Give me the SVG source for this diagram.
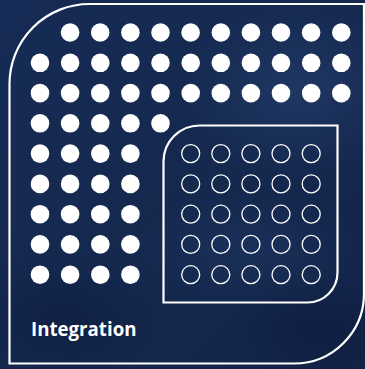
<svg xmlns="http://www.w3.org/2000/svg" width="365" height="369" viewBox="0 0 365 369">
  <defs>
    <linearGradient id="bg" x1="0" y1="0" x2="1" y2="1">
      <stop offset="0" stop-color="#162b55"/>
      <stop offset="0.5" stop-color="#15294f"/>
      <stop offset="1" stop-color="#122348"/>
    </linearGradient>
    <radialGradient id="glow1" cx="0.5" cy="0.5" r="0.5">
      <stop offset="0" stop-color="#2a4577" stop-opacity="0.5"/>
      <stop offset="1" stop-color="#2a4577" stop-opacity="0"/>
    </radialGradient>
    <radialGradient id="dark1" cx="0.5" cy="0.5" r="0.5">
      <stop offset="0" stop-color="#0c1a3c" stop-opacity="0.6"/>
      <stop offset="1" stop-color="#0c1a3c" stop-opacity="0"/>
    </radialGradient>
    <style>
      .frame { fill: none; stroke: #ffffff; stroke-width: 2.2; }
      .dot { fill: #ffffff; }
      .ring { fill: none; stroke: #ffffff; stroke-width: 1.3; }
      .label { font-family: "Open Sans", "Noto Sans", sans-serif; font-weight: 700; font-size: 19px; fill: #ffffff; }
    </style>
    <g id="row11">
      <circle class="dot" cx="40" cy="0" r="9.3"/>
      <circle class="dot" cx="70.1" cy="0" r="9.3"/>
      <circle class="dot" cx="100.3" cy="0" r="9.3"/>
      <circle class="dot" cx="130.4" cy="0" r="9.3"/>
      <circle class="dot" cx="160.5" cy="0" r="9.3"/>
      <circle class="dot" cx="190.7" cy="0" r="9.3"/>
      <circle class="dot" cx="220.8" cy="0" r="9.3"/>
      <circle class="dot" cx="250.9" cy="0" r="9.3"/>
      <circle class="dot" cx="281" cy="0" r="9.3"/>
      <circle class="dot" cx="311.2" cy="0" r="9.3"/>
      <circle class="dot" cx="341.3" cy="0" r="9.3"/>
    </g>
    <g id="row4">
      <circle class="dot" cx="40" cy="0" r="9.3"/>
      <circle class="dot" cx="70.1" cy="0" r="9.3"/>
      <circle class="dot" cx="100.3" cy="0" r="9.3"/>
      <circle class="dot" cx="130.4" cy="0" r="9.3"/>
    </g>
    <g id="ring5">
      <circle class="ring" cx="190.7" cy="0" r="9"/>
      <circle class="ring" cx="220.8" cy="0" r="9"/>
      <circle class="ring" cx="250.9" cy="0" r="9"/>
      <circle class="ring" cx="281" cy="0" r="9"/>
      <circle class="ring" cx="311.2" cy="0" r="9"/>
    </g>
  </defs>

  <g id="background">
    <rect x="0" y="0" width="365" height="369" fill="url(#bg)"/>
    <ellipse cx="300" cy="90" rx="120" ry="90" fill="url(#glow1)"/>
    <ellipse cx="250" cy="250" rx="110" ry="60" fill="url(#glow1)" opacity="0.6"/>
    <ellipse cx="60" cy="320" rx="110" ry="70" fill="url(#dark1)"/>
    <ellipse cx="320" cy="330" rx="90" ry="50" fill="url(#dark1)"/>
  </g>

  <g id="outer-frame">
    <path class="frame" d="M 9.5,363.5 L 9.5,84 A 80 80 0 0 1 89.5,4 L 364,4 L 364,294 A 70 70 0 0 1 294,363.5 Z"/>
  </g>

  <g id="filled-dots">
    <g transform="translate(30.1,32.5)">
      <circle class="dot" cx="40" cy="0" r="9.3"/>
      <circle class="dot" cx="70.1" cy="0" r="9.3"/>
      <circle class="dot" cx="100.3" cy="0" r="9.3"/>
      <circle class="dot" cx="130.4" cy="0" r="9.3"/>
      <circle class="dot" cx="160.5" cy="0" r="9.3"/>
      <circle class="dot" cx="190.7" cy="0" r="9.3"/>
      <circle class="dot" cx="220.8" cy="0" r="9.3"/>
      <circle class="dot" cx="250.9" cy="0" r="9.3"/>
      <circle class="dot" cx="281" cy="0" r="9.3"/>
      <circle class="dot" cx="311.2" cy="0" r="9.3"/>
    </g>
    <use href="#row11" y="62.8"/>
    <use href="#row11" y="93.1"/>
    <g transform="translate(0,123.3)">
      <circle class="dot" cx="40" cy="0" r="9.3"/>
      <circle class="dot" cx="70.1" cy="0" r="9.3"/>
      <circle class="dot" cx="100.3" cy="0" r="9.3"/>
      <circle class="dot" cx="130.4" cy="0" r="9.3"/>
      <circle class="dot" cx="160.5" cy="0" r="9.3"/>
    </g>
    <use href="#row4" y="153.6"/>
    <use href="#row4" y="183.9"/>
    <use href="#row4" y="214.2"/>
    <use href="#row4" y="244.4"/>
    <use href="#row4" y="274.7"/>
  </g>

  <g id="inner-frame">
    <path class="frame" d="M 163.5,302.5 L 163.5,161.5 A 36 36 0 0 1 199.5,125.5 L 337.5,125.5 L 337.5,272.5 A 30 30 0 0 1 307.5,302.5 Z"/>
  </g>

  <g id="ring-dots">
    <use href="#ring5" y="153.6"/>
    <use href="#ring5" y="183.9"/>
    <use href="#ring5" y="214.2"/>
    <use href="#ring5" y="244.4"/>
    <use href="#ring5" y="274.7"/>
  </g>

  <g id="label">
    <text class="label" x="31" y="335.5" textLength="105.5" lengthAdjust="spacingAndGlyphs">Integration</text>
  </g>
</svg>
